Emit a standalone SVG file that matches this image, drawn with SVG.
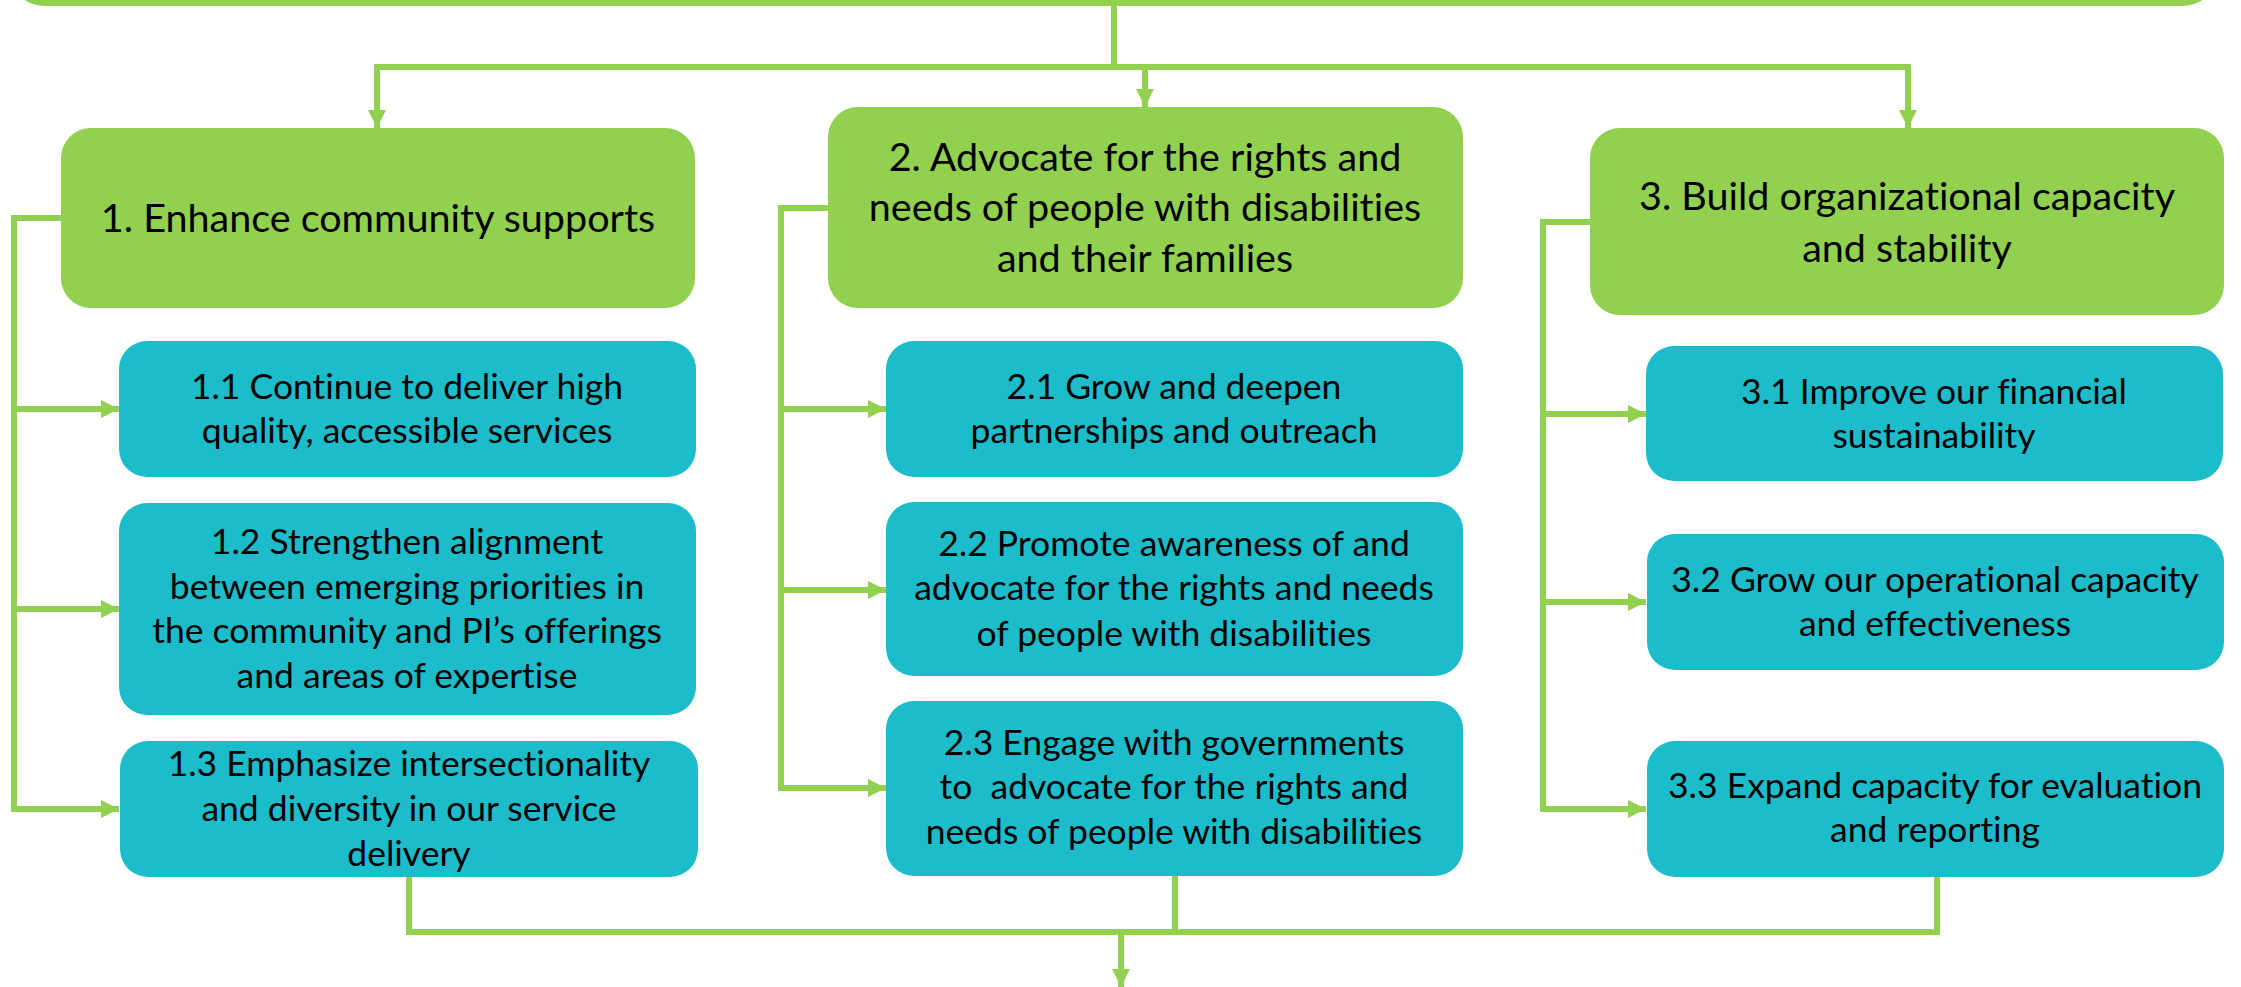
<svg xmlns="http://www.w3.org/2000/svg" width="2241" height="987" viewBox="0 0 2241 987">
  <style>
    .g { fill: #92D050; }
    .t { fill: #1DBCCB; }
    .c { fill: none; stroke: #92D050; stroke-width: 6; }
    text { font-family: Lato, "Liberation Sans", sans-serif; fill: #000; text-anchor: middle; white-space: pre; font-variant-ligatures: none; font-feature-settings: "liga" 0; }
    .lg { font-size: 39.5px; }
    .lt { font-size: 35.5px; }
  </style>
  <defs>
    <marker id="ah" markerUnits="userSpaceOnUse" markerWidth="18" markerHeight="18" viewBox="0 0 16 16" refX="16" refY="8" orient="auto">
      <path d="M0,0 L16,8 L0,16 Z" fill="#92D050"/>
    </marker>
  </defs>
  <rect x="15" y="-40" width="2197" height="46" rx="30" class="g"/>
  <g id="connectors">
    <path class="c" d="M1114,6 V67 H377 V128" marker-end="url(#ah)"/>
    <path class="c" d="M1114,67 H1908 V128" marker-end="url(#ah)"/>
    <path class="c" d="M1114,67 H1145 V107" marker-end="url(#ah)"/>
    <path class="c" d="M61,218 H14 V809 H119" marker-end="url(#ah)"/>
    <path class="c" d="M14,409 H119" marker-end="url(#ah)"/>
    <path class="c" d="M14,609 H119" marker-end="url(#ah)"/>
    <path class="c" d="M828,208 H781 V788 H886" marker-end="url(#ah)"/>
    <path class="c" d="M781,409 H886" marker-end="url(#ah)"/>
    <path class="c" d="M781,590 H886" marker-end="url(#ah)"/>
    <path class="c" d="M1590,222 H1543 V809 H1646" marker-end="url(#ah)"/>
    <path class="c" d="M1543,414 H1646" marker-end="url(#ah)"/>
    <path class="c" d="M1543,602 H1646" marker-end="url(#ah)"/>
    <path class="c" d="M409,877 V932 H1937 V877"/>
    <path class="c" d="M1175,876 V932"/>
    <path class="c" d="M1121,932 V987" marker-end="url(#ah)"/>
  </g>
  <g id="n1">
    <rect x="61" y="128" width="634" height="180" rx="30" class="g"/>
    <text class="lg" x="378" y="232">1. Enhance community supports</text>
  </g>
  <g id="n2">
    <rect x="828" y="107" width="635" height="201" rx="30" class="g"/>
    <text class="lg" x="1145" y="171">2. Advocate for the rights and</text>
    <text class="lg" x="1145" y="221">needs of people with disabilities</text>
    <text class="lg" x="1145" y="272">and their families</text>
  </g>
  <g id="n3">
    <rect x="1590" y="128" width="634" height="187" rx="30" class="g"/>
    <text class="lg" x="1907" y="210">3. Build organizational capacity</text>
    <text class="lg" x="1907" y="262">and stability</text>
  </g>
  <g id="n11">
    <rect x="119" y="341" width="577" height="136" rx="28" class="t"/>
    <text class="lt" x="407" y="399">1.1 Continue to deliver high</text>
    <text class="lt" x="407" y="443">quality, accessible services</text>
  </g>
  <g id="n12">
    <rect x="119" y="503" width="577" height="212" rx="28" class="t"/>
    <text class="lt" x="407" y="554">1.2 Strengthen alignment</text>
    <text class="lt" x="407" y="599">between emerging priorities in</text>
    <text class="lt" x="407" y="643">the community and PI’s offerings</text>
    <text class="lt" x="407" y="688">and areas of expertise</text>
  </g>
  <g id="n13">
    <rect x="120" y="741" width="578" height="136" rx="28" class="t"/>
    <text class="lt" x="409" y="776">1.3 Emphasize intersectionality</text>
    <text class="lt" x="409" y="821">and diversity in our service</text>
    <text class="lt" x="409" y="866">delivery</text>
  </g>
  <g id="n21">
    <rect x="886" y="341" width="577" height="136" rx="28" class="t"/>
    <text class="lt" x="1174" y="399">2.1 Grow and deepen</text>
    <text class="lt" x="1174" y="443">partnerships and outreach</text>
  </g>
  <g id="n22">
    <rect x="886" y="502" width="577" height="174" rx="28" class="t"/>
    <text class="lt" x="1174" y="556">2.2 Promote awareness of and</text>
    <text class="lt" x="1174" y="600">advocate for the rights and needs</text>
    <text class="lt" x="1174" y="646">of people with disabilities</text>
  </g>
  <g id="n23">
    <rect x="886" y="701" width="577" height="175" rx="28" class="t"/>
    <text class="lt" x="1174" y="755">2.3 Engage with governments</text>
    <text class="lt" x="1174" y="799">to  advocate for the rights and</text>
    <text class="lt" x="1174" y="844">needs of people with disabilities</text>
  </g>
  <g id="n31">
    <rect x="1646" y="346" width="577" height="135" rx="28" class="t"/>
    <text class="lt" x="1934" y="404">3.1 Improve our financial</text>
    <text class="lt" x="1934" y="448">sustainability</text>
  </g>
  <g id="n32">
    <rect x="1647" y="534" width="577" height="136" rx="28" class="t"/>
    <text class="lt" x="1935" y="592">3.2 Grow our operational capacity</text>
    <text class="lt" x="1935" y="636">and effectiveness</text>
  </g>
  <g id="n33">
    <rect x="1647" y="741" width="577" height="136" rx="28" class="t"/>
    <text class="lt" x="1935" y="798">3.3 Expand capacity for evaluation</text>
    <text class="lt" x="1935" y="842">and reporting</text>
  </g>
</svg>
